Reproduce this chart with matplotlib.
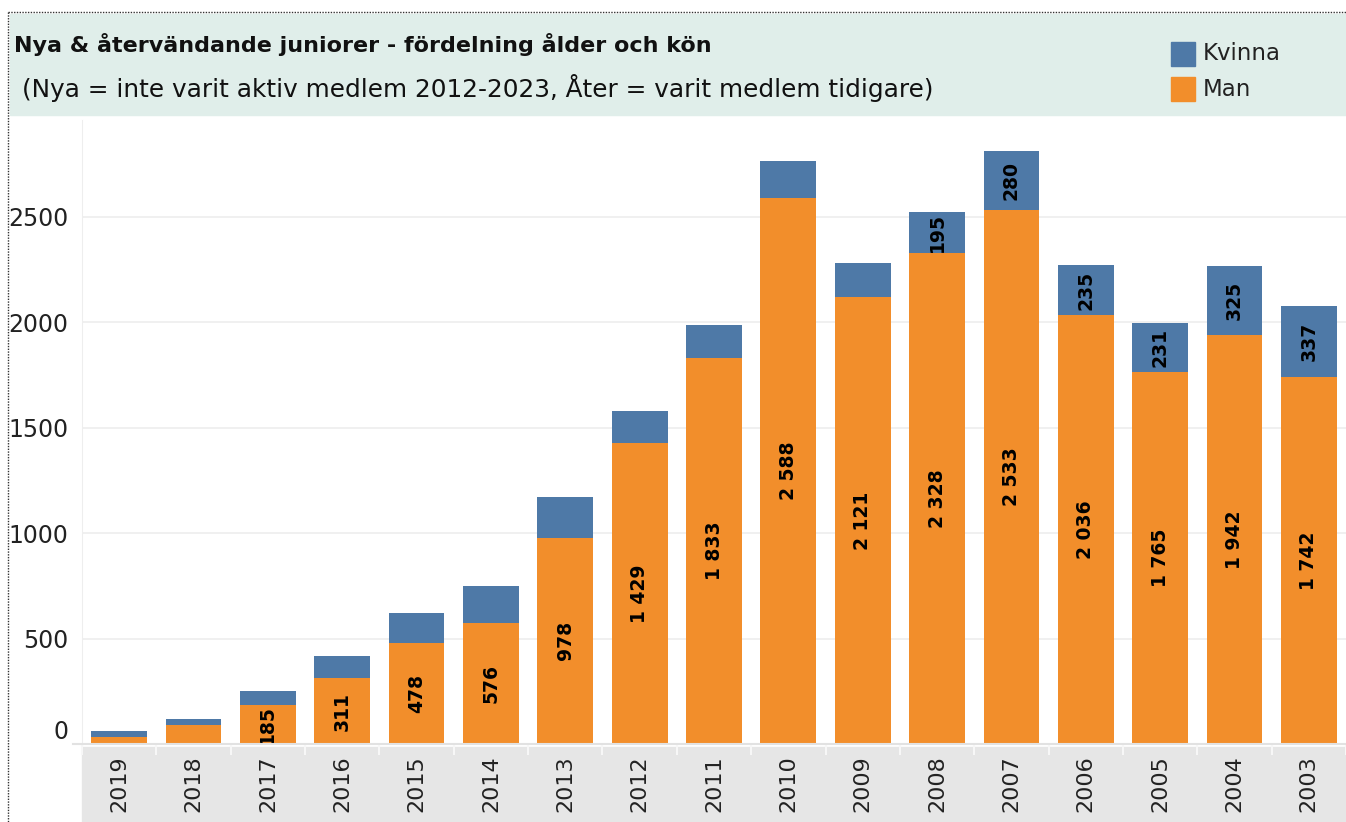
import matplotlib
matplotlib.use("Agg")
import matplotlib.pyplot as plt
import numpy as np
from matplotlib.lines import Line2D
from matplotlib.patches import Rectangle

# data
years = ["2019", "2018", "2017", "2016", "2015", "2014", "2013", "2012", "2011",
         "2010", "2009", "2008", "2007", "2006", "2005", "2004", "2003"]
man = [33, 90, 185, 311, 478, 576, 978, 1429, 1833, 2588, 2121, 2328, 2533,
       2036, 1765, 1942, 1742]
kvinna = [29, 28, 66, 106, 143, 173, 193, 150, 154, 177, 160, 195, 280,
          235, 231, 325, 337]
# which segments carry a value label in the original
man_label_shown = [False, False] + [True] * 15
kvinna_label_shown = [False] * 11 + [True] * 6
y_ticks = [0, 500, 1000, 1500, 2000, 2500]

TITLE = "Nya & återvändande juniorer - fördelning ålder och kön"
SUBTITLE = "(Nya = inte varit aktiv medlem 2012-2023, Åter = varit medlem tidigare)"

ORANGE = "#F28E2B"
BLUE = "#4E79A7"
W, H = 1346, 822


def fx(px):
    return px / W


def fy(py):
    return 1 - py / H


def fmt(v):
    return f"{v:,}".replace(",", " ")


plt.rcParams["font.family"] = ["DejaVu Sans"]
fig = plt.figure(figsize=(W / 100, H / 100), dpi=100)

# title band
fig.patches.append(Rectangle((fx(10), fy(115)), fx(W) - fx(10), fy(14) - fy(115),
                             transform=fig.transFigure, color="#E0EEEA", zorder=-2))
# grey band behind the category labels
fig.patches.append(Rectangle((fx(82), 0), fx(W) - fx(82), fy(747),
                             transform=fig.transFigure, color="#E6E6E6", zorder=-2))
# dotted outer border
fig.lines.append(Line2D([fx(8), 1], [fy(12), fy(12)], transform=fig.transFigure,
                        color="#333333", lw=1, ls=(0, (1, 1))))
fig.lines.append(Line2D([fx(8), fx(8)], [fy(12), 0], transform=fig.transFigure,
                        color="#333333", lw=1, ls=(0, (1, 1))))

fig.text(fx(14), fy(44), TITLE, fontsize=16, fontweight="bold", va="center", ha="left",
         color="#111111")
fig.text(fx(22), fy(88), SUBTITLE, fontsize=17.8, va="center", ha="left", color="#111111")

# legend
for yc, col, lab in [(54, BLUE, "Kvinna"), (89, ORANGE, "Man")]:
    fig.patches.append(Rectangle((fx(1171), fy(yc + 12)), fx(24), 24 / H,
                                 transform=fig.transFigure, color=col))
    fig.text(fx(1203), fy(yc), lab, fontsize=16.5, va="center", ha="left", color="#222222")

ax = fig.add_axes([fx(82), fy(744), 1 - fx(82), fy(120) - fy(744)])
x = np.arange(len(years))
ax.bar(x, man, width=0.75, color=ORANGE, zorder=2)
ax.bar(x, kvinna, width=0.75, bottom=man, color=BLUE, zorder=2)

for i in range(len(years)):
    if man_label_shown[i]:
        ax.text(x[i], man[i] / 2, fmt(man[i]), rotation=90, ha="center", va="center",
                fontsize=13.5, fontweight="bold", color="black", zorder=3)
    if kvinna_label_shown[i]:
        ax.text(x[i], man[i] + kvinna[i] / 2, fmt(kvinna[i]), rotation=90, ha="center",
                va="center", fontsize=13.5, fontweight="bold", color="black", zorder=3)

ax.set_xlim(-0.5, len(years) - 0.5)
ax.set_ylim(0, 2960)
ax.set_yticks(y_ticks)
ax.set_yticklabels([str(t) for t in y_ticks])
ax.yaxis.grid(True, color="#EEEEEE", lw=1.2, zorder=0)
ax.set_axisbelow(True)
ax.tick_params(axis="y", length=0, pad=10, labelsize=17, labelcolor="#222222")
ax.get_yticklabels()[0].set_verticalalignment("bottom")

ax.set_xticks(x)
ax.set_xticklabels(years, rotation=90)
ax.tick_params(axis="x", which="major", length=0, pad=8, labelsize=16, labelcolor="#222222")
ax.set_xticks(np.arange(len(years) + 1) - 0.5, minor=True)
ax.tick_params(axis="x", which="minor", length=8, width=1.5, color="#F7F7F7")

for s in ["top", "right"]:
    ax.spines[s].set_visible(False)
ax.spines["left"].set_color("#EEEEEE")
ax.spines["bottom"].set_visible(False)
fig.lines.append(Line2D([fx(73), 1], [fy(744), fy(744)], transform=fig.transFigure,
                        color="#E2E2E2", lw=1.5))

fig.savefig("out.png", dpi=100)
